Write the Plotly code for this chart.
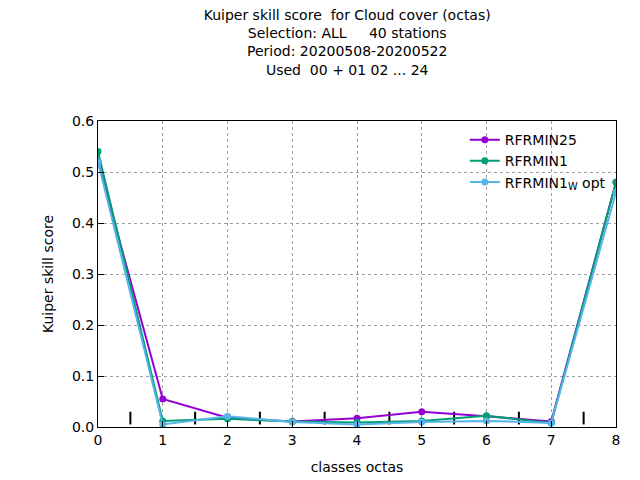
import plotly.graph_objects as go

classes = [0, 1, 2, 3, 4, 5, 6, 7, 8]
rfrmin25 = [0.52, 0.055, 0.018, 0.011, 0.017, 0.03, 0.021, 0.011, 0.48]
rfrmin1 = [0.54, 0.012, 0.016, 0.011, 0.009, 0.012, 0.022, 0.008, 0.48]
rfrmin1w = [0.52, 0.005, 0.021, 0.01, 0.005, 0.01, 0.012, 0.008, 0.46]
tick_x = [0.5, 1.5, 2.5, 3.5, 4.5, 5.5, 6.5, 7.5]
tick_h = 0.03

fig = go.Figure()
tx, ty = [], []
for x in tick_x:
    tx += [x, x, None]
    ty += [0.005, tick_h, None]
fig.add_trace(go.Scatter(x=tx, y=ty, mode="lines", line=dict(color="black", width=2),
                         showlegend=False, hoverinfo="skip"))
series = [("RFRMIN25", rfrmin25, "#9400d3"),
          ("RFRMIN1", rfrmin1, "#009e73"),
          ("RFRMIN1<sub>W</sub> opt", rfrmin1w, "#56b4e9")]
for name, ys, c in series:
    fig.add_trace(go.Scatter(x=classes, y=ys, name=name, mode="lines+markers",
                             line=dict(color=c, width=2), marker=dict(color=c, size=7)))

fig.update_layout(
    width=640, height=480, autosize=False,
    font=dict(family="DejaVu Sans", size=14, color="black"),
    title=dict(text="Kuiper skill score  for Cloud cover (octas)<br>Selection: ALL     40 stations<br>"
                    "Period: 20200508-20200522<br>Used  00 + 01 02 ... 24",
               x=0.53, xanchor="center", y=0.975, yanchor="top", font=dict(size=14)),
    margin=dict(l=90, r=32, t=113, b=61),
    legend=dict(x=0.99, y=0.99, xanchor="right", yanchor="top", bgcolor="rgba(0,0,0,0)",
                font=dict(size=14)),
    plot_bgcolor="white", paper_bgcolor="white",
)
ax = dict(showgrid=True, gridcolor="#a0a0a0", griddash="dot", showline=True, linecolor="black",
          linewidth=1, mirror=True, ticks="inside", ticklen=6, tickcolor="black",
          zeroline=False, tickfont=dict(size=14))
fig.update_xaxes(range=[0, 8], dtick=1, title=dict(text="classes octas", font=dict(size=14)), **ax)
fig.update_yaxes(range=[0, 0.6], dtick=0.1, tickformat=".1f",
                 title=dict(text="Kuiper skill score", font=dict(size=14)), **ax)
fig.write_html("out.html")
